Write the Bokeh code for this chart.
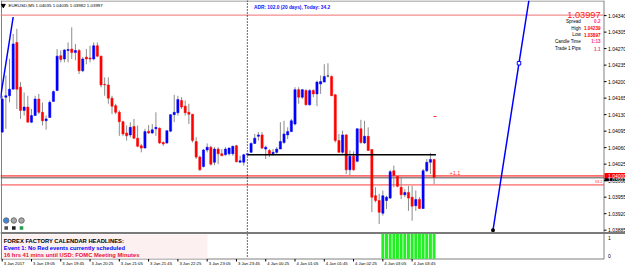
from bokeh.plotting import figure
from bokeh.models import Range1d, ColumnDataSource
from bokeh.embed import file_html
from bokeh.resources import INLINE
from bokeh.core.properties import value

# ---------------- data ----------------
opens = [1.04093, 1.04167, 1.04170, 1.04184, 1.04283, 1.04188, 1.04139, 1.04146, 1.04114, 1.04128,
         1.04163, 1.04135, 1.04117, 1.04124, 1.04158, 1.04181, 1.04255, 1.04248, 1.04266, 1.04269,
         1.04262, 1.04266, 1.04223, 1.04252, 1.04250, 1.04248, 1.04276, 1.04254, 1.04194, 1.04193,
         1.04165, 1.04149, 1.04135, 1.04115, 1.04091, 1.04087, 1.04105, 1.04080, 1.04064, 1.04059,
         1.04095, 1.04091, 1.04100, 1.04101, 1.04071, 1.04070, 1.04095, 1.04130, 1.04134, 1.04160,
         1.04148, 1.04135, 1.04131, 1.04073, 1.04040, 1.04020, 1.04055, 1.04061, 1.04029, 1.04057,
         1.04047, 1.04045, 1.04047, 1.04047, 1.04064, 1.04029, 1.04029, 1.04045, 1.04050, 1.04069,
         1.04084, 1.04087, 1.04057, 1.04054, 1.04047, 1.04050, 1.04057, 1.04071, 1.04087, 1.04094,
         1.04110, 1.04183, 1.04167, 1.04181, 1.04151, 1.04181, 1.04174, 1.04195, 1.04199, 1.04212,
         1.04211, 1.04172, 1.04075, 1.04050, 1.04087, 1.04013, 1.04042, 1.04031, 1.04100, 1.04070,
         1.04084, 1.04056, 1.03958, 1.03948, 1.03921, 1.03948, 1.03953, 1.04011, 1.03999, 1.03976,
         1.03960, 1.03965, 1.03955, 1.03937, 1.03950, 1.03931, 1.04011, 1.04029, 1.04035]
highs = [1.04170, 1.04213, 1.04248, 1.04301, 1.04312, 1.04199, 1.04177, 1.04170, 1.04142, 1.04170,
         1.04174, 1.04156, 1.04128, 1.04160, 1.04181, 1.04269, 1.04266, 1.04269, 1.04283, 1.04315,
         1.04280, 1.04269, 1.04252, 1.04269, 1.04276, 1.04283, 1.04283, 1.04255, 1.04209, 1.04209,
         1.04170, 1.04153, 1.04139, 1.04117, 1.04107, 1.04114, 1.04121, 1.04107, 1.04068, 1.04100,
         1.04108, 1.04110, 1.04135, 1.04103, 1.04073, 1.04096, 1.04131, 1.04172, 1.04170, 1.04167,
         1.04160, 1.04153, 1.04131, 1.04082, 1.04043, 1.04057, 1.04069, 1.04064, 1.04061, 1.04061,
         1.04057, 1.04061, 1.04061, 1.04064, 1.04066, 1.04043, 1.04047, 1.04049, 1.04071, 1.04089,
         1.04093, 1.04093, 1.04064, 1.04057, 1.04057, 1.04061, 1.04114, 1.04117, 1.04103, 1.04121,
         1.04188, 1.04188, 1.04184, 1.04184, 1.04184, 1.04184, 1.04202, 1.04213, 1.04237, 1.04239,
         1.04213, 1.04174, 1.04089, 1.04096, 1.04089, 1.04054, 1.04052, 1.04101, 1.04119, 1.04117,
         1.04103, 1.04057, 1.03976, 1.03962, 1.03969, 1.03958, 1.04013, 1.04022, 1.04001, 1.03997,
         1.03972, 1.03979, 1.03979, 1.03969, 1.03955, 1.04015, 1.04036, 1.04049, 1.04035]
lows = [1.04091, 1.04100, 1.04156, 1.04184, 1.04142, 1.04121, 1.04128, 1.04114, 1.04112, 1.04128,
        1.04131, 1.04107, 1.04098, 1.04124, 1.04158, 1.04181, 1.04241, 1.04241, 1.04241, 1.04248,
        1.04245, 1.04216, 1.04220, 1.04237, 1.04241, 1.04245, 1.04252, 1.04188, 1.04170, 1.04153,
        1.04131, 1.04131, 1.04085, 1.04085, 1.04075, 1.04082, 1.04078, 1.04061, 1.04050, 1.04059,
        1.04089, 1.04089, 1.04085, 1.04068, 1.04064, 1.04068, 1.04093, 1.04114, 1.04128, 1.04142,
        1.04128, 1.04110, 1.04071, 1.04036, 1.04011, 1.04018, 1.04050, 1.04022, 1.04023, 1.04025,
        1.04042, 1.04043, 1.04043, 1.04043, 1.04029, 1.04029, 1.04022, 1.04043, 1.04049, 1.04068,
        1.04075, 1.04057, 1.04036, 1.04040, 1.04043, 1.04047, 1.04057, 1.04068, 1.04078, 1.04093,
        1.04107, 1.04153, 1.04163, 1.04149, 1.04149, 1.04167, 1.04148, 1.04174, 1.04199, 1.04209,
        1.04170, 1.04071, 1.04050, 1.04047, 1.04004, 1.04002, 1.04011, 1.04029, 1.04068, 1.04068,
        1.04054, 1.03923, 1.03944, 1.03898, 1.03916, 1.03930, 1.03951, 1.03976, 1.03976, 1.03951,
        1.03955, 1.03926, 1.03905, 1.03926, 1.03930, 1.03930, 1.04008, 1.04004, 1.03982]
closes = [1.04163, 1.04170, 1.04184, 1.04280, 1.04184, 1.04139, 1.04146, 1.04114, 1.04128, 1.04163,
          1.04135, 1.04117, 1.04121, 1.04156, 1.04179, 1.04254, 1.04247, 1.04267, 1.04268, 1.04262,
          1.04266, 1.04223, 1.04248, 1.04248, 1.04248, 1.04276, 1.04254, 1.04193, 1.04193, 1.04165,
          1.04148, 1.04135, 1.04115, 1.04089, 1.04085, 1.04103, 1.04080, 1.04063, 1.04059, 1.04094,
          1.04091, 1.04098, 1.04103, 1.04070, 1.04068, 1.04096, 1.04130, 1.04135, 1.04162, 1.04146,
          1.04134, 1.04131, 1.04075, 1.04040, 1.04013, 1.04055, 1.04061, 1.04025, 1.04057, 1.04047,
          1.04043, 1.04057, 1.04059, 1.04063, 1.04030, 1.04032, 1.04045, 1.04047, 1.04069, 1.04080,
          1.04087, 1.04059, 1.04061, 1.04047, 1.04050, 1.04057, 1.04073, 1.04089, 1.04094, 1.04117,
          1.04183, 1.04167, 1.04183, 1.04151, 1.04181, 1.04174, 1.04199, 1.04200, 1.04211, 1.04212,
          1.04170, 1.04075, 1.04050, 1.04087, 1.04013, 1.04042, 1.04013, 1.04100, 1.04071, 1.04084,
          1.04054, 1.03955, 1.03948, 1.03923, 1.03958, 1.03955, 1.04009, 1.04001, 1.03978, 1.03960,
          1.03965, 1.03953, 1.03936, 1.03950, 1.03931, 1.04011, 1.04029, 1.04035, 1.03997]

signal = [0] * 104 + [1] * 15          # green histogram in the lower window

time_tick_idx = [0, 8, 16, 24, 32, 40, 48, 56, 64, 72, 80, 88, 96, 104, 112]
time_labels = ["3 Jan 2017", "3 Jan 19:05", "3 Jan 19:45", "3 Jan 20:25", "3 Jan 21:05",
               "3 Jan 21:45", "3 Jan 22:25", "3 Jan 23:05", "3 Jan 23:45", "4 Jan 00:25",
               "4 Jan 01:05", "4 Jan 01:45", "4 Jan 02:25", "4 Jan 03:05", "4 Jan 03:45"]
price_ticks = [1.04340, 1.04305, 1.04270, 1.04235, 1.04200, 1.04165, 1.04130, 1.04095,
               1.04060, 1.04025, 1.03990, 1.03955, 1.03920, 1.03885]
ind_ticks = [1, 0]

day_sep_idx = 67
day_open = 1.04045
level_top = 1.04341
level_round = 1.04000
level_bid = 1.03996
level_low = 1.03981

proj_idx = [134.1, 141.2, 143.9]
proj_price = [1.03885, 1.04239, 1.04372]
trend_idx = [-0.5, 0.0, 3.0]
trend_price = [1.04164, 1.04189, 1.04337]

info_labels = ["Spread", "High", "Low", "Candle Time", "Trade 1 Pips"]
info_values = ["0.2", "1.04239", "1.03897", "1:13", "1.1"]
info_colors = ["#ff2a8a", "#ff0000", "#ff0000", "#ff2a8a", "#ff2a8a"]

# ---------------- figure ----------------
W, H = 625, 266
FONT = value("Liberation Sans")
p = figure(width=W, height=H, output_backend="svg", toolbar_location=None,
           x_range=Range1d(-0.4645, 170.30), y_range=Range1d(1.03808, 1.04372),
           x_axis_location=None, y_axis_location=None, min_border=0,
           background_fill_color="white", border_fill_color="white", outline_line_color=None)
p.grid.visible = False
p.extra_x_ranges = {"px": Range1d(0, W)}
p.extra_y_ranges = {"py": Range1d(H, 0), "ind": Range1d(-0.611, 14.167), "hist": Range1d(-0.308, 10.332)}

idx = list(range(len(opens)))
cols = []
for o, c in zip(opens, closes):
    cols.append("#0000ff" if c > o else ("#ff0000" if c < o else "#000000"))
src = ColumnDataSource(dict(x=idx, o=opens, h=highs, l=lows, c=closes,
                            top=[max(a, b) for a, b in zip(opens, closes)],
                            bot=[min(a, b) for a, b in zip(opens, closes)], col=cols))

# frame lines
p.segment(x0=[0, 1, 603.5, 0], y0=[0.5, 0, 0, 258.5], x1=[603.5, 1, 603.5, 603.5], y1=[0.5, 258.5, 258.5, 258.5],
          x_range_name="px", y_range_name="py", line_color="#808080", line_width=1)

# horizontal levels
p.segment(x0=[0], y0=[level_top], x1=[603.5], y1=[level_top], x_range_name="px", line_color="#f07070", line_width=1)
p.segment(x0=[0], y0=[level_round], x1=[603.5], y1=[level_round], x_range_name="px", line_color="#ff0000", line_width=1)
p.segment(x0=[0], y0=[level_bid], x1=[603.5], y1=[level_bid], x_range_name="px", line_color="#505050", line_width=1)
p.segment(x0=[0], y0=[level_low], x1=[603.5], y1=[level_low], x_range_name="px", line_color="#ff4040", line_width=1)

# day separator (dotted)
p.segment(x0=[day_sep_idx], x1=[day_sep_idx], y0=[0], y1=[258], y_range_name="py",
          line_color="#000000", line_dash="1 2", line_width=1.2)

# candles
p.segment(x0="x", y0="l", x1="x", y1="h", source=src, line_color="#8c8c8c", line_width=1)
p.vbar(x="x", width=0.6, top="top", bottom="bot", source=src, fill_color="col", line_color="col", line_width=0.5)

# today open line
p.segment(x0=[day_sep_idx], x1=[len(opens) - 0.5], y0=[day_open], y1=[day_open], line_color="#000000", line_width=1.5)

# trend / projection lines
p.line(x=trend_idx, y=trend_price, line_color="#0000ff", line_width=1.5)
p.line(x=proj_idx, y=proj_price, line_color="#0000ff", line_width=1.5)
p.scatter(x=[proj_idx[1]], y=[proj_price[1]], marker="square", size=3.5, fill_color="white", line_color="#0000ff")
p.scatter(x=[proj_idx[0]], y=[proj_price[0]], marker="square", size=2.5, fill_color="#000000", line_color="#000000")

# window separator
p.segment(x0=[0], x1=[W], y0=[232.5], y1=[232.5], x_range_name="px", y_range_name="py", line_color="#7a7a7a", line_width=2)

# lower window
p.vbar(x=idx, width=0.8, top=signal, bottom=0, y_range_name="hist", fill_color="#22f022", line_color=None)
p.quad(left=[2], right=[207], bottom=[258], top=[234], x_range_name="px", y_range_name="py",
       fill_color="#fdf0f0", line_color=None)
p.text(x=[3.3], y=[240.5], text=["FOREX FACTORY CALENDAR  HEADLINES:"], x_range_name="px", y_range_name="py",
       text_font=FONT, text_font_size="5.8px", text_font_style="bold", text_color="#000000", text_baseline="middle")
p.text(x=[3.3], y=[247.3], text=["Event 1: No Red events currently scheduled"], x_range_name="px", y_range_name="py",
       text_font=FONT, text_font_size="5.8px", text_font_style="bold", text_color="#0000ff", text_baseline="middle")
p.text(x=[3.3], y=[254.6], text=["16 hrs 41 mins until USD: FOMC Meeting Minutes"], x_range_name="px", y_range_name="py",
       text_font=FONT, text_font_size="5.8px", text_font_style="bold", text_color="#e8103a", text_baseline="middle")

# price axis
p.segment(x0=[603.5] * len(price_ticks), x1=[606] * len(price_ticks), y0=price_ticks, y1=price_ticks,
          x_range_name="px", line_color="#000000")
p.text(x=[607.5] * len(price_ticks), y=price_ticks, text=[f"{t:.5f}" for t in price_ticks], x_range_name="px",
       text_font=FONT, text_font_size="5px", text_color="#000000", text_baseline="middle")
p.text(x=[607.5] * 2, y=ind_ticks, text=[str(t) for t in ind_ticks], x_range_name="px", y_range_name="ind",
       text_font=FONT, text_font_size="5px", text_color="#000000", text_baseline="middle")

# bid boxes on the price axis
p.quad(left=[604], right=[625], bottom=[level_round - 0.00006], top=[level_round + 0.00006], x_range_name="px",
       fill_color="#ff0000", line_color=None)
p.quad(left=[604], right=[625], bottom=[level_bid - 0.00007], top=[level_bid - 0.00001], x_range_name="px",
       fill_color="#000000", line_color=None)
p.text(x=[607.5, 607.5], y=[level_round, level_bid - 0.00004], text=["1.04000", "1.03997"], x_range_name="px",
       text_font=FONT, text_font_size="5px", text_color="#ffffff", text_baseline="middle")

# time axis
p.segment(x0=time_tick_idx, x1=time_tick_idx, y0=[258.5] * len(time_tick_idx), y1=[261] * len(time_tick_idx),
          y_range_name="py", line_color="#000000")
p.text(x=time_tick_idx, y=[262.5] * len(time_tick_idx), text=time_labels, y_range_name="py", x_offset=1.5,
       text_font=FONT, text_font_size="4.2px", text_color="#000000", text_baseline="middle")

# header texts
p.scatter(x=[2.8], y=[5], marker="inverted_triangle", size=4, color="#000000", x_range_name="px", y_range_name="py")
p.text(x=[8], y=[5.2], text=["EURUSD,M5  1.04035 1.04035 1.03982 1.03997"], x_range_name="px", y_range_name="py",
       text_font=FONT, text_font_size="4.4px", text_color="#000000", text_baseline="middle")
p.text(x=[253.5], y=[6.8], text=["ADR: 102.0 (20 days), Today: 34.2"], x_range_name="px", y_range_name="py",
       text_font=FONT, text_font_size="4.8px", text_font_style="bold", text_color="#1010ff", text_baseline="middle")

# info panel
p.text(x=[600], y=[14.2], text=[f"{closes[-1]:.5f}"], x_range_name="px", y_range_name="py",
       text_font=FONT, text_font_size="9.2px", text_color="#ff2020", text_baseline="middle", text_align="right")
p.text(x=[580.3] * 5, y=[20.7, 27.6, 34.4, 41.3, 48.3], text=info_labels, x_range_name="px", y_range_name="py",
       text_font=FONT, text_font_size="4.6px", text_color="#000000", text_baseline="middle", text_align="right")
p.text(x=[600] * 5, y=[20.7, 27.6, 34.4, 41.3, 48.3], text=info_values, x_range_name="px", y_range_name="py",
       text_font=FONT, text_font_size="4.6px", text_font_style="bold", text_color=info_colors,
       text_baseline="middle", text_align="right")

# small indicator marks
p.text(x=[449], y=[172.7], text=["+1.1"], x_range_name="px", y_range_name="py",
       text_font=FONT, text_font_size="5.5px", text_color="#ff3030", text_baseline="middle")
p.text(x=[602], y=[181], text=["33.2"], x_range_name="px", y_range_name="py",
       text_font=FONT, text_font_size="4px", text_color="#ff3030", text_baseline="middle", text_align="right")
p.segment(x0=[433], x1=[436], y0=[116], y1=[116], x_range_name="px", y_range_name="py", line_color="#ff3030", line_width=1)

# chart icons
p.scatter(x=[5.7, 13.3, 21], y=[220, 220, 220], marker="circle", size=5.5,
          fill_color=["#3a86e0", "#a8a8a8", "#a8a8a8"], line_color="#707070", x_range_name="px", y_range_name="py")
p.scatter(x=[5.7, 13.3, 21], y=[227.5, 227.5, 227.5], marker="square", size=3.6,
          fill_color=["#505050", "#202020", "#20a050"], line_color=None, x_range_name="px", y_range_name="py")

open("out.html", "w").write(file_html(p, INLINE))
